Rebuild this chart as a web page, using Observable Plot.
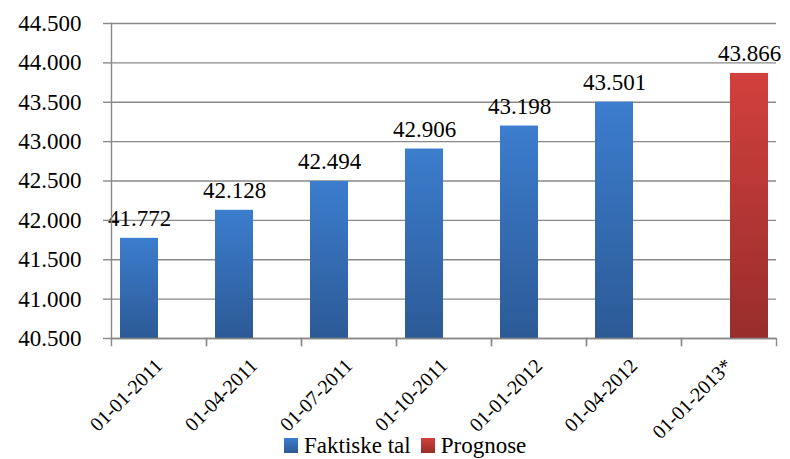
<!DOCTYPE html>
<html>
<head>
<meta charset="utf-8">
<script src="https://cdn.jsdelivr.net/npm/d3@7"></script>
<script src="https://cdn.jsdelivr.net/npm/@observablehq/plot@0.6"></script>
<style>
  html, body { margin: 0; padding: 0; background: #fff; font-family: 'Liberation Serif', 'Times New Roman', serif; }
  #chart { width: 790px; height: 459px; }
  .legend { display: flex; align-items: center; height: 27px; padding-left: 284px; font-size: 23px; color: #000; }
  .legend .sw { width: 14px; height: 15px; display: inline-block; margin-right: 6px; }
  .legend .item { display: flex; align-items: center; margin-right: 10px; }
</style>
</head>
<body>
<div id="chart"></div>
<script>
const dates = ["01-01-2011", "01-04-2011", "01-07-2011", "01-10-2011", "01-01-2012", "01-04-2012", "01-01-2013*"];
const seriesNames = ["Faktiske tal", "Prognose"];
const faktiske = [41772, 42128, 42494, 42906, 43198, 43501, null];
const prognose = [null, null, null, null, null, null, 43866];
const yTicks = [40500, 41000, 41500, 42000, 42500, 43000, 43500, 44000, 44500];

const rows = [];
dates.forEach((d, i) => {
  if (faktiske[i] != null) rows.push({date: d, series: seriesNames[0], value: faktiske[i]});
  if (prognose[i] != null) rows.push({date: d, series: seriesNames[1], value: prognose[i]});
});

const dk = d3.formatLocale({decimal: ",", thousands: ".", grouping: [3], currency: ["", " kr"]});
const fmt = dk.format(",d");
const yMin = yTicks[0], yMax = yTicks[yTicks.length - 1];
const gray = "#898989";
const font = "Liberation Serif";

function render() {
  const chart = document.getElementById("chart");
  chart.innerHTML = "";
  const plot = Plot.plot({
    width: 790,
    height: 432,
    marginLeft: 108,
    marginRight: 12,
    marginTop: 23,
    marginBottom: 94,
    style: {fontFamily: font, background: "#fff", color: "#000", overflow: "visible"},
    fx: {domain: dates, padding: 0, label: null},
    x: {domain: seriesNames, paddingInner: 0.05, paddingOuter: 0.2, axis: null},
    y: {domain: [yMin, yMax], label: null},
    marks: [
      Plot.gridY(yTicks, {stroke: gray, strokeOpacity: 1, strokeWidth: 1.4}),
      Plot.barY(rows.filter(r => r.series === seriesNames[0]), {fx: "date", x: "series", y1: () => yMin, y2: "value", fill: "url(#gBlue)"}),
      Plot.barY(rows.filter(r => r.series === seriesNames[1]), {fx: "date", x: "series", y1: () => yMin, y2: "value", fill: "url(#gRed)"}),
      Plot.text(rows, {fx: "date", x: "series", y: "value", text: d => fmt(d.value), lineAnchor: "bottom", dy: -12, fontSize: 23, fontFamily: font, fill: "#000"}),
      Plot.ruleY([yMin], {stroke: gray, strokeWidth: 1.4}),
      Plot.frame({anchor: "left", facetAnchor: "left", stroke: gray, strokeWidth: 1.4}),
      Plot.frame({anchor: "left", stroke: gray, strokeWidth: 1.4, insetTop: 315, insetBottom: -7}),
      Plot.frame({anchor: "right", stroke: gray, strokeWidth: 1.4, insetTop: 315, insetBottom: -7}),
      Plot.axisY({ticks: yTicks, tickFormat: fmt, tickSize: 8, tickPadding: 22, fontSize: 23, fontFamily: font, stroke: gray, strokeWidth: 1.4, label: null}),
      Plot.axisFx({anchor: "bottom", tickRotate: -45, tickSize: 0, tickPadding: 24, fontSize: 20, fontFamily: font, label: null})
    ]
  });

  const svg = d3.select(plot);
  const defs = svg.insert("defs", ":first-child");
  const gb = defs.append("linearGradient").attr("id", "gBlue").attr("x1", 0).attr("y1", 0).attr("x2", 0).attr("y2", 1);
  gb.append("stop").attr("offset", "0%").attr("stop-color", "#3c7dce");
  gb.append("stop").attr("offset", "100%").attr("stop-color", "#2c5a96");
  const gr = defs.append("linearGradient").attr("id", "gRed").attr("x1", 0).attr("y1", 0).attr("x2", 0).attr("y2", 1);
  gr.append("stop").attr("offset", "0%").attr("stop-color", "#d2403d");
  gr.append("stop").attr("offset", "100%").attr("stop-color", "#982d2b");
  chart.appendChild(plot);

  const legend = document.createElement("div");
  legend.className = "legend";
  legend.style.fontFamily = "'Liberation Serif'";
  legend.innerHTML = `
    <span class="item"><span class="sw" style="background:linear-gradient(#3c7dce,#2c5a96)"></span>${seriesNames[0]}</span>
    <span class="item"><span class="sw" style="background:linear-gradient(#d2403d,#982d2b)"></span>${seriesNames[1]}</span>`;
  chart.appendChild(legend);
}

render();
</script>
</body>
</html>
